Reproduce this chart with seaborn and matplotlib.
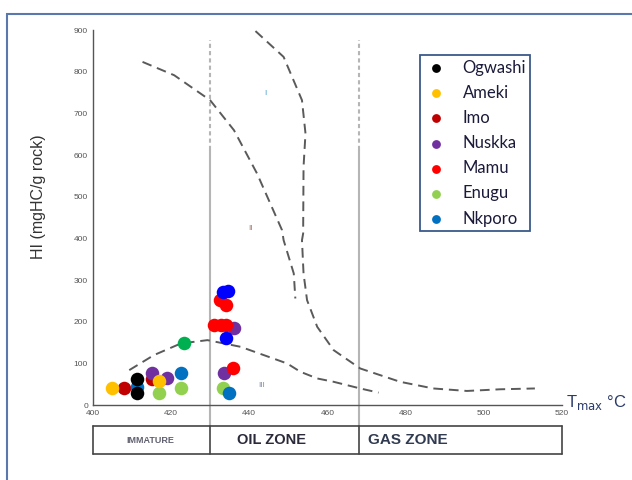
import matplotlib.pyplot as plt
import seaborn as sns
from matplotlib.patches import Rectangle
from matplotlib.transforms import blended_transform_factory

# sample points: Tmax (degC) and HI (mgHC/g rock)
ogwashi_t = [411.4, 411.4]
ogwashi_hi = [62, 28]
ameki_t = [404.9, 416.8]
ameki_hi = [42, 58]
imo_t = [408.0, 415.2]
imo_hi = [42, 62]
nuskka_t = [415.1, 418.9, 436.1, 433.5]
nuskka_hi = [78, 64, 184, 78]
mamu_t = [432.4, 434.1, 431.0, 432.7, 434.0, 435.9]
mamu_hi = [252, 240, 192, 192, 192, 90]
enugu_t = [416.8, 422.5, 433.4]
enugu_hi = [30, 42, 42]
nkporo_t = [411.4, 422.5, 434.8]
nkporo_hi = [44, 78, 28]
# points in the source figure whose colours are not in the legend
other_green_t = [423.3]
other_green_hi = [150]
other_blue_t = [433.3, 434.6, 434.0]
other_blue_hi = [272, 274, 160]

# kerogen type boundary curves
curve_a_t = [412.7, 420.8, 430.0, 436.1, 442.0, 448.4, 448.8, 451.4, 451.8]
curve_a_hi = [824, 792, 732, 660, 556, 420, 396, 316, 256]
curve_b_t = [441.6, 448.8, 453.5, 454.4, 453.9, 453.8, 453.5, 453.9, 454.8,
             457.4, 461.6, 468.4, 478.6, 487.1, 495.7, 504.2, 513.1]
curve_b_hi = [898, 836, 732, 652, 572, 412, 396, 316, 252,
              188, 132, 88, 56, 40, 34, 38, 40]
curve_c_t = [409.3, 415.6, 422.5, 429.3, 437.8, 449.7, 453.1, 457.4,
             461.6, 468.4, 473.1]
curve_c_hi = [84, 120, 148, 156, 140, 100, 80, 64, 56, 40, 30]

zone_bounds = [430, 468]
zone_names = ["IMMATURE", "OIL ZONE", "GAS ZONE"]
x_ticks = [400, 420, 440, 460, 480, 500, 520]
y_ticks = [0, 100, 200, 300, 400, 500, 600, 700, 800, 900]

sns.set_style("white")
plt.rcParams["font.family"] = ["Liberation Sans", "DejaVu Sans"]

fig = plt.figure(figsize=(6.32, 4.8), dpi=100)
ax = fig.add_axes([0.147, 0.156, 0.742, 0.781])

# outer frame of the original figure
fig.patches.append(Rectangle((7 / 632, -0.1), 1.2, 1.1 - 14 / 480,
                             transform=fig.transFigure, fill=False,
                             edgecolor="#5a78ad", lw=1.5, clip_on=False))

# zone boundaries
bt = blended_transform_factory(ax.transData, ax.transAxes)
for xb in zone_bounds:
    ax.plot([xb, xb], [-0.056, 612 / 900], transform=bt, color="#b5b5b5",
            lw=1.5, clip_on=False, zorder=1)
    ax.plot([xb, xb], [612, 876], color="#b5b5b5", lw=1.5,
            ls=(0, (2, 1.5)), zorder=1)

# boundary curves
dash = (0, (5, 3))
for ct, ch in [(curve_a_t, curve_a_hi), (curve_b_t, curve_b_hi),
               (curve_c_t, curve_c_hi)]:
    sns.lineplot(x=ct, y=ch, sort=False, estimator=None, ax=ax,
                 color="#5a5a5a", lw=1.4, linestyle=dash, zorder=2)

series = [
    ("Imo", imo_t, imo_hi, "#c00000"),
    ("Nuskka", nuskka_t, nuskka_hi, "#7030a0"),
    ("Mamu", mamu_t, mamu_hi, "#ff0000"),
    ("Enugu", enugu_t, enugu_hi, "#92d050"),
    ("Nkporo", nkporo_t, nkporo_hi, "#0070c0"),
    ("Ogwashi", ogwashi_t, ogwashi_hi, "#000000"),
    ("Ameki", ameki_t, ameki_hi, "#ffc000"),
    ("_green", other_green_t, other_green_hi, "#00b050"),
    ("_blue", other_blue_t, other_blue_hi, "#0000ff"),
]
for name, st, sh, col in series:
    sns.scatterplot(x=st, y=sh, ax=ax, color=col, s=95, linewidth=0,
                    label=name, zorder=3)

# type labels
ax.text(444.2, 749, "I", color="#4aa0d0", fontsize=6, ha="center", va="center")
ax.text(440.3, 425, "II", color="#a08070", fontsize=6, ha="center", va="center")
ax.text(443.3, 46, "III", color="#8090a8", fontsize=6, ha="center", va="center")

ax.set_xlim(400, 520)
ax.set_ylim(0, 900)
ax.set_xticks(x_ticks)
ax.set_yticks(y_ticks)
ax.tick_params(labelsize=6, colors="#555555", length=3, width=0.8,
               direction="inout", pad=2)
sns.despine(ax=ax)
for sp in ["left", "bottom"]:
    ax.spines[sp].set_color("#555555")
    ax.spines[sp].set_linewidth(1.0)

ax.set_ylabel("HI (mgHC/g rock)", fontsize=11.5, color="#333333")
ax.yaxis.set_label_coords(-0.1, 0.555)
ax.text(1.008, 0.008, r"T$_{\mathrm{max}}$ °C", transform=ax.transAxes,
        fontsize=12, color="#2a3a6a", ha="left", va="center")

# zone table under the axis
y_top, y_bot = -0.056, -0.1307
for yy in [y_top, y_bot]:
    ax.plot([400, 520], [yy, yy], transform=bt, color="#444444", lw=1.2,
            clip_on=False)
for xb in [400] + zone_bounds + [520]:
    ax.plot([xb, xb], [y_top, y_bot], transform=bt, color="#444444", lw=1.2,
            clip_on=False)
ymid = (y_top + y_bot) / 2
ax.text(414.8, ymid, zone_names[0], transform=bt, fontsize=6.5,
        fontweight="bold", color="#606070", ha="center", va="center")
ax.text(445.8, ymid, zone_names[1], transform=bt, fontsize=10.5,
        fontweight="bold", color="#2a2a3a", ha="center", va="center")
ax.text(470.3, ymid, zone_names[2], transform=bt, fontsize=11,
        fontweight="bold", color="#303a50", ha="left", va="center")

order = ["Ogwashi", "Ameki", "Imo", "Nuskka", "Mamu", "Enugu", "Nkporo"]
handles, labels = ax.get_legend_handles_labels()
hmap = dict(zip(labels, handles))
leg = ax.legend([hmap[n] for n in order], order, loc="upper left",
                bbox_to_anchor=(0.698, 0.933), borderaxespad=0,
                fancybox=False, framealpha=1, edgecolor="#3a5a8c",
                markerscale=0.65, handlelength=1.4, handletextpad=0.9,
                labelspacing=0.55, borderpad=0.25,
                prop={"family": "Lato", "size": 12})
leg.get_frame().set_linewidth(1.3)
for t in leg.get_texts():
    t.set_color("#1a1a3a")

fig.savefig("out.png", dpi=100)
